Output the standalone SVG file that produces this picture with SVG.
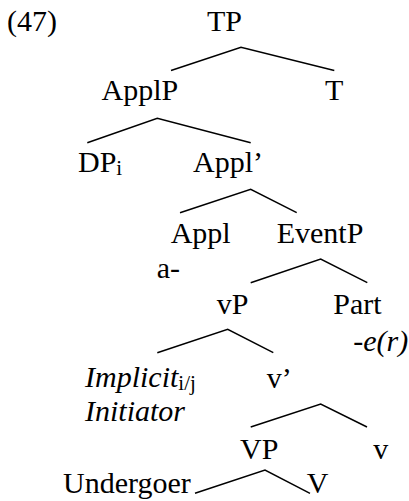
<svg xmlns="http://www.w3.org/2000/svg" width="409" height="501" viewBox="0 0 409 501">
<style>
text{font-family:"Liberation Serif","Times New Roman",serif;font-size:30px;fill:#000}
.it{font-style:italic}
.sub{font-size:21px;font-style:normal}
.edge{fill:none;stroke:#000;stroke-width:1.5;stroke-linejoin:miter}
</style>
<rect width="409" height="501" fill="#fff"/>
<g id="connectors">
<polyline class="edge" points="171,70.5 241,47.3 334.3,70.5"/>
<polyline class="edge" points="87.3,142.7 157.3,118.3 250.7,142.7"/>
<polyline class="edge" points="180,212.7 250.7,189.3 296.7,212.7"/>
<polyline class="edge" points="250.7,282.7 320.7,259 367.3,282.7"/>
<polyline class="edge" points="157.3,352.7 227.7,329.3 273.3,352.7"/>
<polyline class="edge" points="250.7,427 320.7,404 367,427"/>
<polyline class="edge" points="195,493.3 265,470 310,493.3"/>
</g>
<g id="label47"><text x="7" y="31">(47)</text></g>
<g id="TP"><text x="207" y="31">TP</text></g>
<g id="ApplP"><text x="101.5" y="100">ApplP</text></g>
<g id="T"><text x="325" y="100">T</text></g>
<g id="DPi"><text x="78" y="172">DP<tspan class="sub" dy="3">i</tspan></text></g>
<g id="ApplBar"><text x="193" y="172">Appl’</text></g>
<g id="Appl"><text x="170.7" y="242.7">Appl</text><text x="156.7" y="278.3">a-</text></g>
<g id="EventP"><text x="276.7" y="242.7">EventP</text></g>
<g id="vP"><text x="216.7" y="314">vP</text></g>
<g id="Part"><text x="333.3" y="314">Part</text><text class="it" x="353.3" y="351">-e(r)</text></g>
<g id="Implicit"><text class="it" x="85" y="387">Implicit<tspan class="sub" dy="3">i/j</tspan></text><text class="it" x="85" y="421">Initiator</text></g>
<g id="vBar"><text x="266.7" y="388">v’</text></g>
<g id="VP"><text x="240" y="459">VP</text></g>
<g id="v"><text x="373.3" y="459">v</text></g>
<g id="Undergoer"><text x="63" y="493">Undergoer</text></g>
<g id="V"><text x="306.7" y="493">V</text></g>
</svg>
